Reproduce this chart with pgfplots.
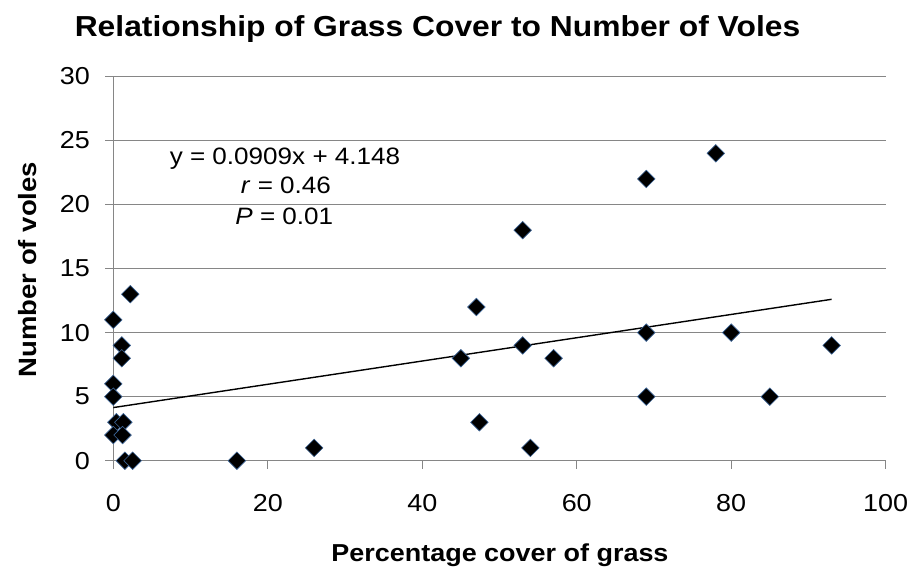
\documentclass[border=0pt]{standalone}
\usepackage{fontspec}
\setmainfont{Liberation Sans}[FakeStretch=1.1]
\usepackage{pgfplots}
\pgfplotsset{compat=1.18}
\definecolor{gridgray}{RGB}{134,134,134}
\definecolor{mkedge}{RGB}{60,100,150}

\begin{document}
\begin{tikzpicture}
\useasboundingbox[fill=white] (0,0) rectangle (913bp,569bp);
\begin{axis}[
  at={(113.3bp,108.3bp)}, anchor=south west,
  scale only axis, width=772.4bp, height=384.2bp,
  xmin=0, xmax=100, ymin=0, ymax=30,
  xtick={0,20,...,100}, ytick={0,5,...,30},
  axis lines*=left,
  axis line style={gridgray, line width=1bp},
  tick align=outside, major tick length=8bp,
  tick style={gridgray, line width=1bp},
  ymajorgrids, grid style={gridgray, line width=1bp},
  clip=false,
  /pgf/number format/assume math mode=true,
  tick label style={font=\fontsize{24.5bp}{28bp}\selectfont, text=black},
  xticklabel shift=22bp,
  yticklabel shift=12bp,
]
\addplot[only marks, mark=square*, mark size=6.2bp,
  mark options={rotate=45, fill=black, draw=mkedge, line width=0.6bp}]
  coordinates {
  (2.2,13) (0,11) (1.1,9) (1.1,8) (0,6) (0,5)
  (0.4,3) (1.3,3) (0,2) (1.2,2) (1.5,0) (2.5,0)
  (16,0) (26,1) (45,8) (47,12) (47.4,3) (53,18) (53,9) (54,1) (57,8)
  (69,22) (69,10) (69,5) (78,24) (80,10) (85,5) (93,9)
  };
\addplot[black, line width=1.4bp] coordinates {(0,4.148) (93,12.6017)};
\end{axis}
\node[anchor=base, font=\bfseries\fontsize{28.9bp}{34bp}\selectfont] at (437.5bp,532.3bp) {Relationship of Grass Cover to Number of Voles};
\node[anchor=base, font=\bfseries\fontsize{24.5bp}{30bp}\selectfont] at (500bp,7.3bp) {Percentage cover of grass};
\node[anchor=base, rotate=90, font=\bfseries\fontsize{25bp}{30bp}\selectfont] at (36.7bp,299.4bp) {Number of voles};
\node[anchor=base, font=\fontsize{23.7bp}{29.7bp}\selectfont] at (285bp,404.7bp) {y = 0.0909x + 4.148};
\node[anchor=base, font=\fontsize{23.7bp}{29.7bp}\selectfont] at (286bp,375bp) {\textit{r} = 0.46};
\node[anchor=base, font=\fontsize{23.7bp}{29.7bp}\selectfont] at (284.3bp,344.5bp) {\textit{P} = 0.01};
\end{tikzpicture}
\end{document}
